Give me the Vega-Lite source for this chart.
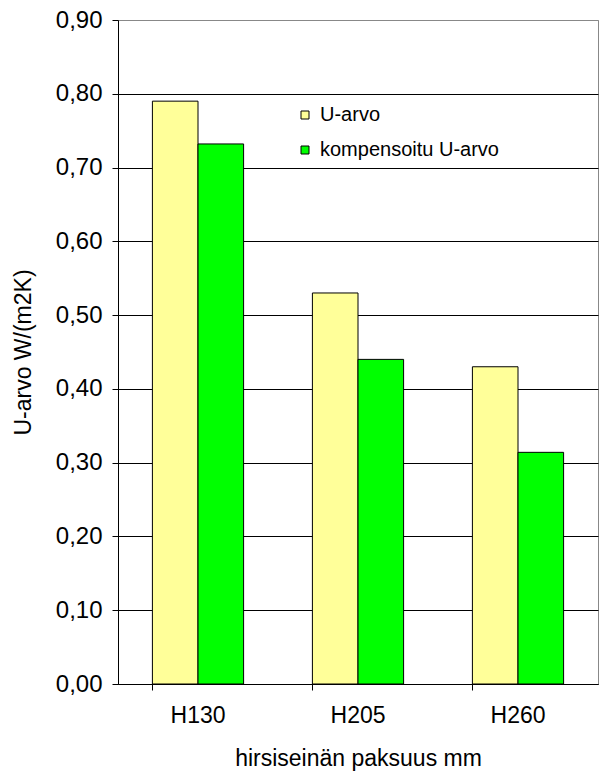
{
  "$schema": "https://vega.github.io/schema/vega-lite/v6.json",
  "width": 480,
  "height": 664,
  "autosize": {"type": "none"},
  "padding": {"left": 118, "top": 20, "right": 1, "bottom": 88},
  "background": "white",
  "config": {
    "font": "Liberation Sans",
    "view": {"stroke": "#888888", "strokeWidth": 1}
  },
  "data": {
    "values": [
      {"paksuus": "H130", "sarja": "U-arvo", "arvo": 0.79},
      {"paksuus": "H130", "sarja": "kompensoitu U-arvo", "arvo": 0.732},
      {"paksuus": "H205", "sarja": "U-arvo", "arvo": 0.53},
      {"paksuus": "H205", "sarja": "kompensoitu U-arvo", "arvo": 0.44},
      {"paksuus": "H260", "sarja": "U-arvo", "arvo": 0.43},
      {"paksuus": "H260", "sarja": "kompensoitu U-arvo", "arvo": 0.314}
    ]
  },
  "mark": {"type": "bar", "stroke": "black", "strokeWidth": 1},
  "encoding": {
    "x": {
      "field": "paksuus",
      "type": "nominal",
      "scale": {"paddingInner": 0.43, "paddingOuter": 0.215},
      "axis": {
        "title": "hirsiseinän paksuus mm",
        "labelAngle": 0,
        "labelFontSize": 23,
        "labelColor": "black",
        "labelPadding": 14,
        "titleFontSize": 23,
        "titleFontWeight": "normal",
        "titleColor": "black",
        "titlePadding": 20,
        "domainColor": "black",
        "tickColor": "black",
        "tickSize": 6,
        "bandPosition": 0
      }
    },
    "xOffset": {"field": "sarja", "type": "nominal", "sort": ["U-arvo", "kompensoitu U-arvo"], "scale": {"paddingInner": 0, "paddingOuter": 0}},
    "y": {
      "field": "arvo",
      "type": "quantitative",
      "scale": {"domain": [0, 0.9], "nice": false},
      "axis": {
        "title": "U-arvo W/(m2K)",
        "values": [0, 0.1, 0.2, 0.3, 0.4, 0.5, 0.6, 0.7, 0.8, 0.9],
        "labelExpr": "replace(format(datum.value, '.2f'), '.', ',')",
        "labelFontSize": 24,
        "labelColor": "black",
        "labelPadding": 10,
        "titleFontSize": 23,
        "titleFontWeight": "normal",
        "titleColor": "black",
        "titlePadding": 20,
        "domainColor": "black",
        "tickColor": "black",
        "tickSize": 6,
        "grid": true,
        "gridColor": {"condition": {"test": "datum.value > 0.89", "value": "#888888"}, "value": "black"},
        "gridOpacity": 1
      }
    },
    "color": {
      "field": "sarja",
      "type": "nominal",
      "sort": ["U-arvo", "kompensoitu U-arvo"],
      "scale": {"domain": ["U-arvo", "kompensoitu U-arvo"], "range": ["#FFFF99", "#00FF00"]},
      "legend": {
        "title": null,
        "orient": "none",
        "legendX": 177,
        "legendY": 85,
        "symbolType": "square",
        "symbolSize": 64,
        "symbolStrokeColor": "black",
        "symbolStrokeWidth": 1,
        "symbolOpacity": 1,
        "labelFontSize": 20,
        "labelColor": "black",
        "labelOffset": 5,
        "labelLimit": 400,
        "rowPadding": 15
      }
    }
  }
}
